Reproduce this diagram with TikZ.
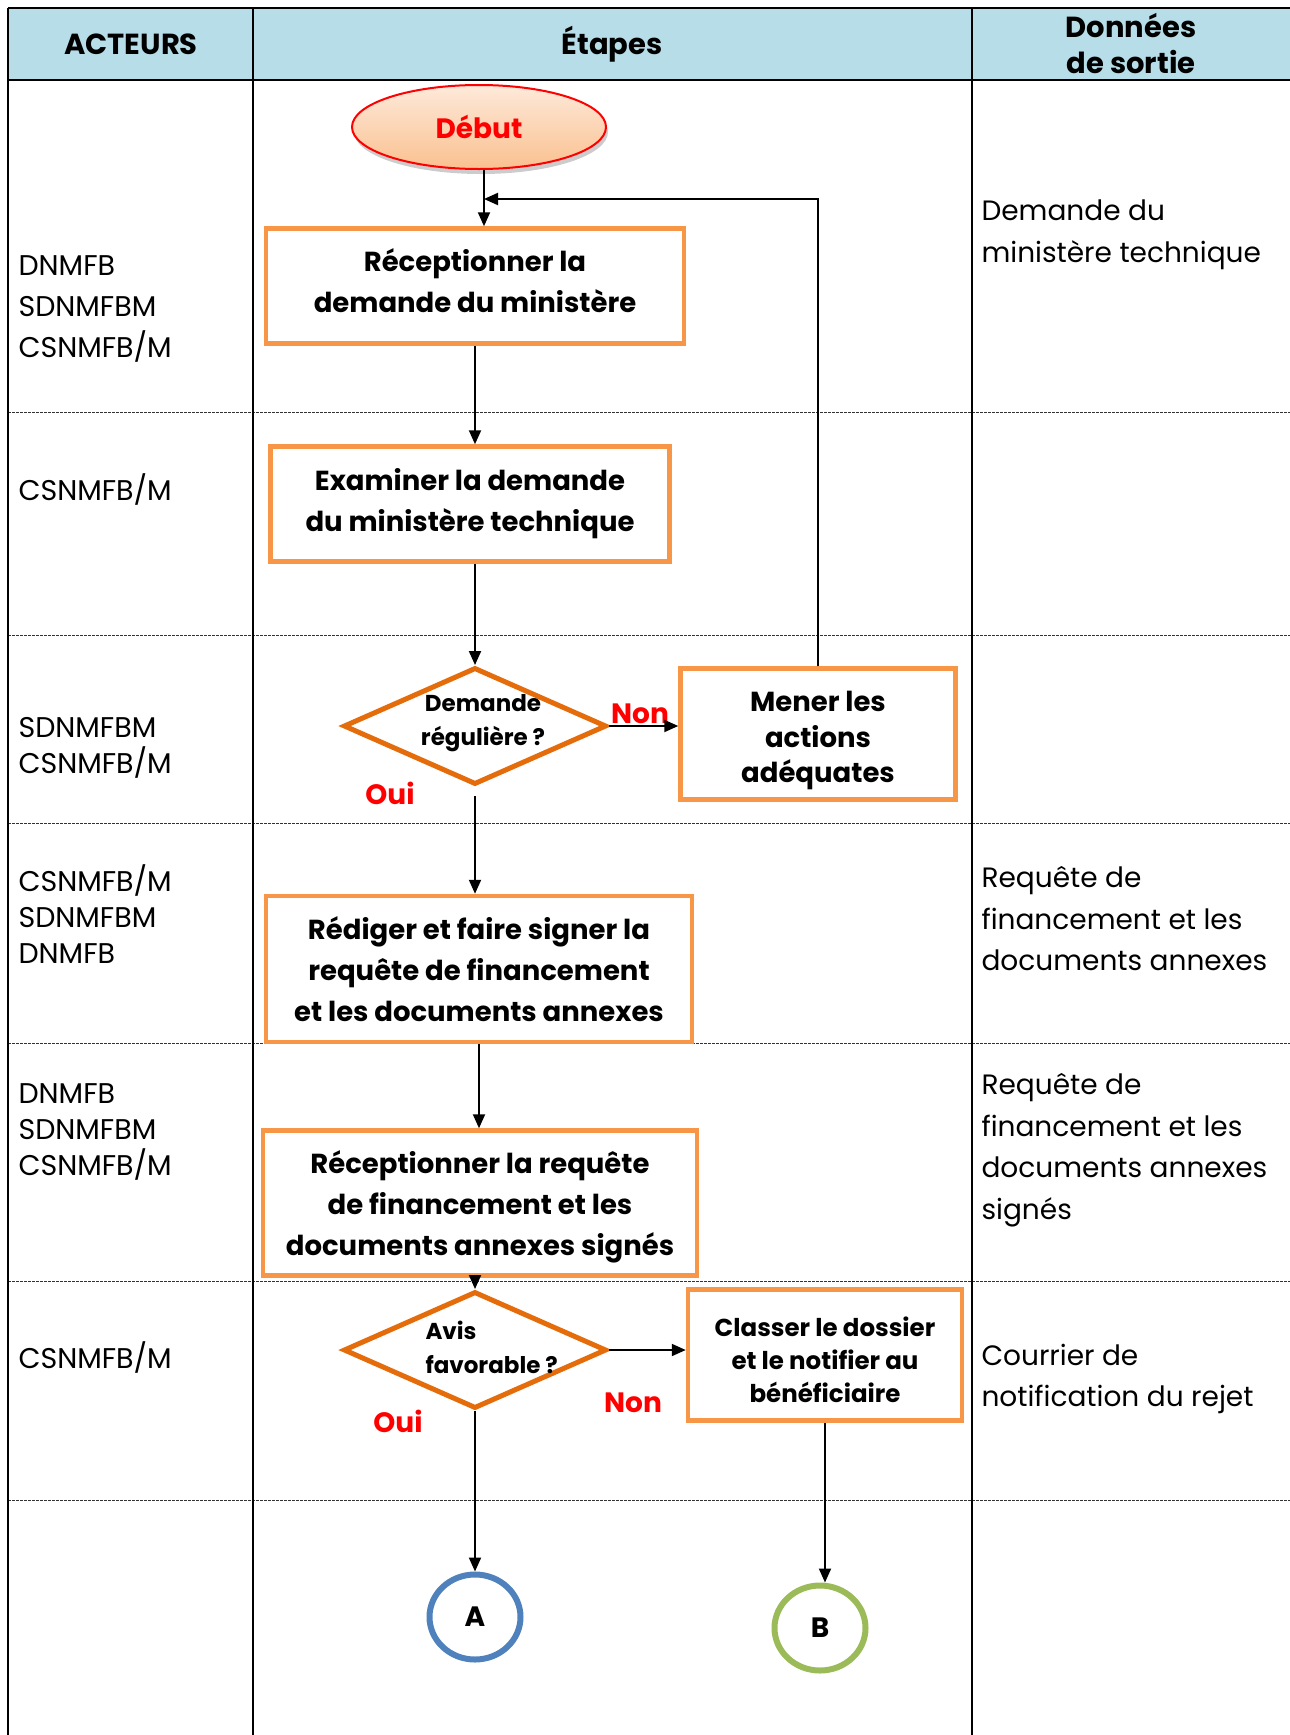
\documentclass[tikz,border=0pt]{standalone}
\usepackage{fontspec}
\setmainfont{Poppins}
\usetikzlibrary{arrows.meta,shapes.geometric,shadows}
\definecolor{headblue}{HTML}{B7DDE8}
\definecolor{boxorange}{HTML}{F79646}
\definecolor{diaorange}{HTML}{E46C0A}
\definecolor{circblue}{HTML}{4F81BD}
\definecolor{circgreen}{HTML}{9BBB59}
\definecolor{peachtop}{HTML}{FDEADA}
\definecolor{peachbot}{HTML}{FAC090}
\tikzset{
  stepfont/.style={font=\bfseries\fontsize{27.5}{41}\selectfont},
  stepbox/.style={draw=boxorange, line width=4.5pt, fill=white, rectangle,
    inner sep=0pt, align=center, stepfont},
  boxtext/.style={align=center, inner sep=0pt, stepfont},
  decision/.style={draw=diaorange, line width=5pt, diamond, inner sep=0pt,
    minimum width=263pt, minimum height=117pt},
  dectext/.style={align=center, font=\bfseries\fontsize{23}{34}\selectfont},
  flow/.style={line width=2pt, -{Triangle[length=14pt,width=12pt]}},
  actor/.style={anchor=west, align=left, font=\fontsize{28.5}{36}\selectfont},
  output/.style={anchor=west, align=left, font=\fontsize{28}{41.5}\selectfont},
  answer/.style={text=red, font=\bfseries\fontsize{28}{30}\selectfont},
  headtext/.style={font=\bfseries\fontsize{29}{36}\selectfont, align=center},
  rowline/.style={line width=1pt, dash pattern=on 2.5pt off 1.5pt, black!80},
  connector/.style={ellipse, line width=6pt, fill=white, inner sep=0pt,
    minimum width=91pt, minimum height=85pt,
    font=\bfseries\fontsize{28}{30}\selectfont}
}
\begin{document}
\begin{tikzpicture}[x=1pt,y=-1pt]
\useasboundingbox (0,0) rectangle (1290,1735);
\fill[white] (0,0) rectangle (1290,1735);

% header band
\fill[headblue] (8,8) rectangle (1290,80);

% row separators
\foreach \yy in {412,635,823,1043,1281,1500}
  \draw[rowline] (8,\yy) -- (1290,\yy);

% table frame
\draw[line width=2.5pt] (8,8) -- (1290,8);
\draw[line width=2.5pt] (8,80) -- (1290,80);
\draw[line width=2pt] (8,8) -- (8,1735);
\draw[line width=2pt] (253,8) -- (253,1735);
\draw[line width=2pt] (972,8) -- (972,1735);

% header labels
\node[headtext] (hact) at (131,44) {ACTEURS};
\node[headtext] (hstep) at (612,44) {Étapes};
\node[headtext] (hout) at (1131,44) {Données\\de sortie};

% actors
\node[actor, font=\fontsize{28.5}{41}\selectfont] (a1) at (15,309) {DNMFB\\SDNMFBM\\CSNMFB/M};
\node[actor] (a2) at (15,489) {CSNMFB/M};
\node[actor] (a3) at (15,748) {SDNMFBM\\CSNMFB/M};
\node[actor] (a4) at (15,914) {CSNMFB/M\\SDNMFBM\\DNMFB};
\node[actor] (a5) at (15,1132) {DNMFB\\SDNMFBM\\CSNMFB/M};
\node[actor] (a6) at (15,1357) {CSNMFB/M};

% outputs
\node[output] (o1) at (978,235) {Demande du\\ministère technique};
\node[output] (o4) at (978,919) {Requête de\\financement et les\\documents annexes};
\node[output] (o5) at (978,1150) {Requête de\\financement et les\\documents annexes\\signés};
\node[output] (o6) at (978,1379) {Courrier de\\notification du rejet};

% start
\node[ellipse, draw=red, line width=2pt, top color=peachtop, bottom color=peachbot,
  minimum width=254pt, minimum height=84pt, text=red,
  font=\bfseries\fontsize{28}{30}\selectfont,
  drop shadow={shadow xshift=2pt, shadow yshift=-5pt, opacity=0.2, fill=black}]
  (debut) at (479,127) {Début};

% process steps
\node[stepbox, minimum width=418pt, minimum height=115pt] (s1) at (475,286) {};
\node[boxtext] (s1t) at ([yshift=5.5pt]s1.center) {Réceptionner la\\demande du ministère};
\node[stepbox, minimum width=399pt, minimum height=115pt] (s2) at (470,504)
  {Examiner la demande\\du ministère technique};
\node[decision] (d1) at (475,726) {};
\node[dectext] (d1t) at (483,723) {Demande\\régulière ?};
\node[stepbox, minimum width=275pt, minimum height=131pt] (s3) at (818,734) {};
\node[boxtext, font=\bfseries\fontsize{27.5}{35.5}\selectfont] (s3t)
  at ([yshift=-6.5pt]s3.center) {Mener les\\actions\\adéquates};
\node[stepbox, minimum width=426pt, minimum height=146pt] (s4) at (479,969)
  {Rédiger et faire signer la\\requête de financement\\et les documents annexes};
\node[stepbox, minimum width=434pt, minimum height=145pt] (s5) at (480,1203) {};
\node[boxtext] (s5t) at ([yshift=-4pt]s5.center)
  {Réceptionner la requête\\de financement et les\\documents annexes signés};
\node[decision] (d2) at (475,1350) {};
\node[dectext, align=left, anchor=west] (d2t) at (422,1347) {Avis\\favorable ?};
\node[stepbox, minimum width=274pt, minimum height=131pt] (s6) at (825,1355) {};
\node[boxtext, font=\bfseries\fontsize{24.5}{33}\selectfont] (s6t)
  at ([yshift=-5pt]s6.center) {Classer le dossier\\et le notifier au\\bénéficiaire};

% end connectors
\node[connector, draw=circblue] (A) at (475,1617) {A};
\node[connector, draw=circgreen] (B) at (820,1628) {B};

% answers
\node[answer] (non1) at (640,714) {Non};
\node[answer] (oui1) at (390,793) {Oui};
\node[answer] (non2) at (633,1403) {Non};
\node[answer] (oui2) at (398,1421) {Oui};

% flow
\coordinate (loop) at (484,199);
\draw[flow] ([xshift=5pt]debut.south) -- ([xshift=5pt]debut.south |- s1.north);
\draw[flow] (s3.north) |- (loop);
\draw[flow] (s1.south) -- (s1.south |- s2.north);
\draw[flow] (s1.south |- s2.south) -- (s1.south |- d1.north);
\draw[flow] (d1.east) -- (d1.east -| s3.west);
\draw[flow, shorten <=9pt] (d1.south) -- (d1.south |- s4.north);
\draw[flow] (s4.south) -- (s4.south |- s5.north);
\draw[flow] (s5.south -| d2.north) -- (d2.north);
\draw[flow] (d2.east) -- (d2.east -| s6.west);
\draw[flow] (d2.south) -- (A.north);
\draw[flow] (s6.south) -- (s6.south |- B.north);
\end{tikzpicture}
\end{document}
